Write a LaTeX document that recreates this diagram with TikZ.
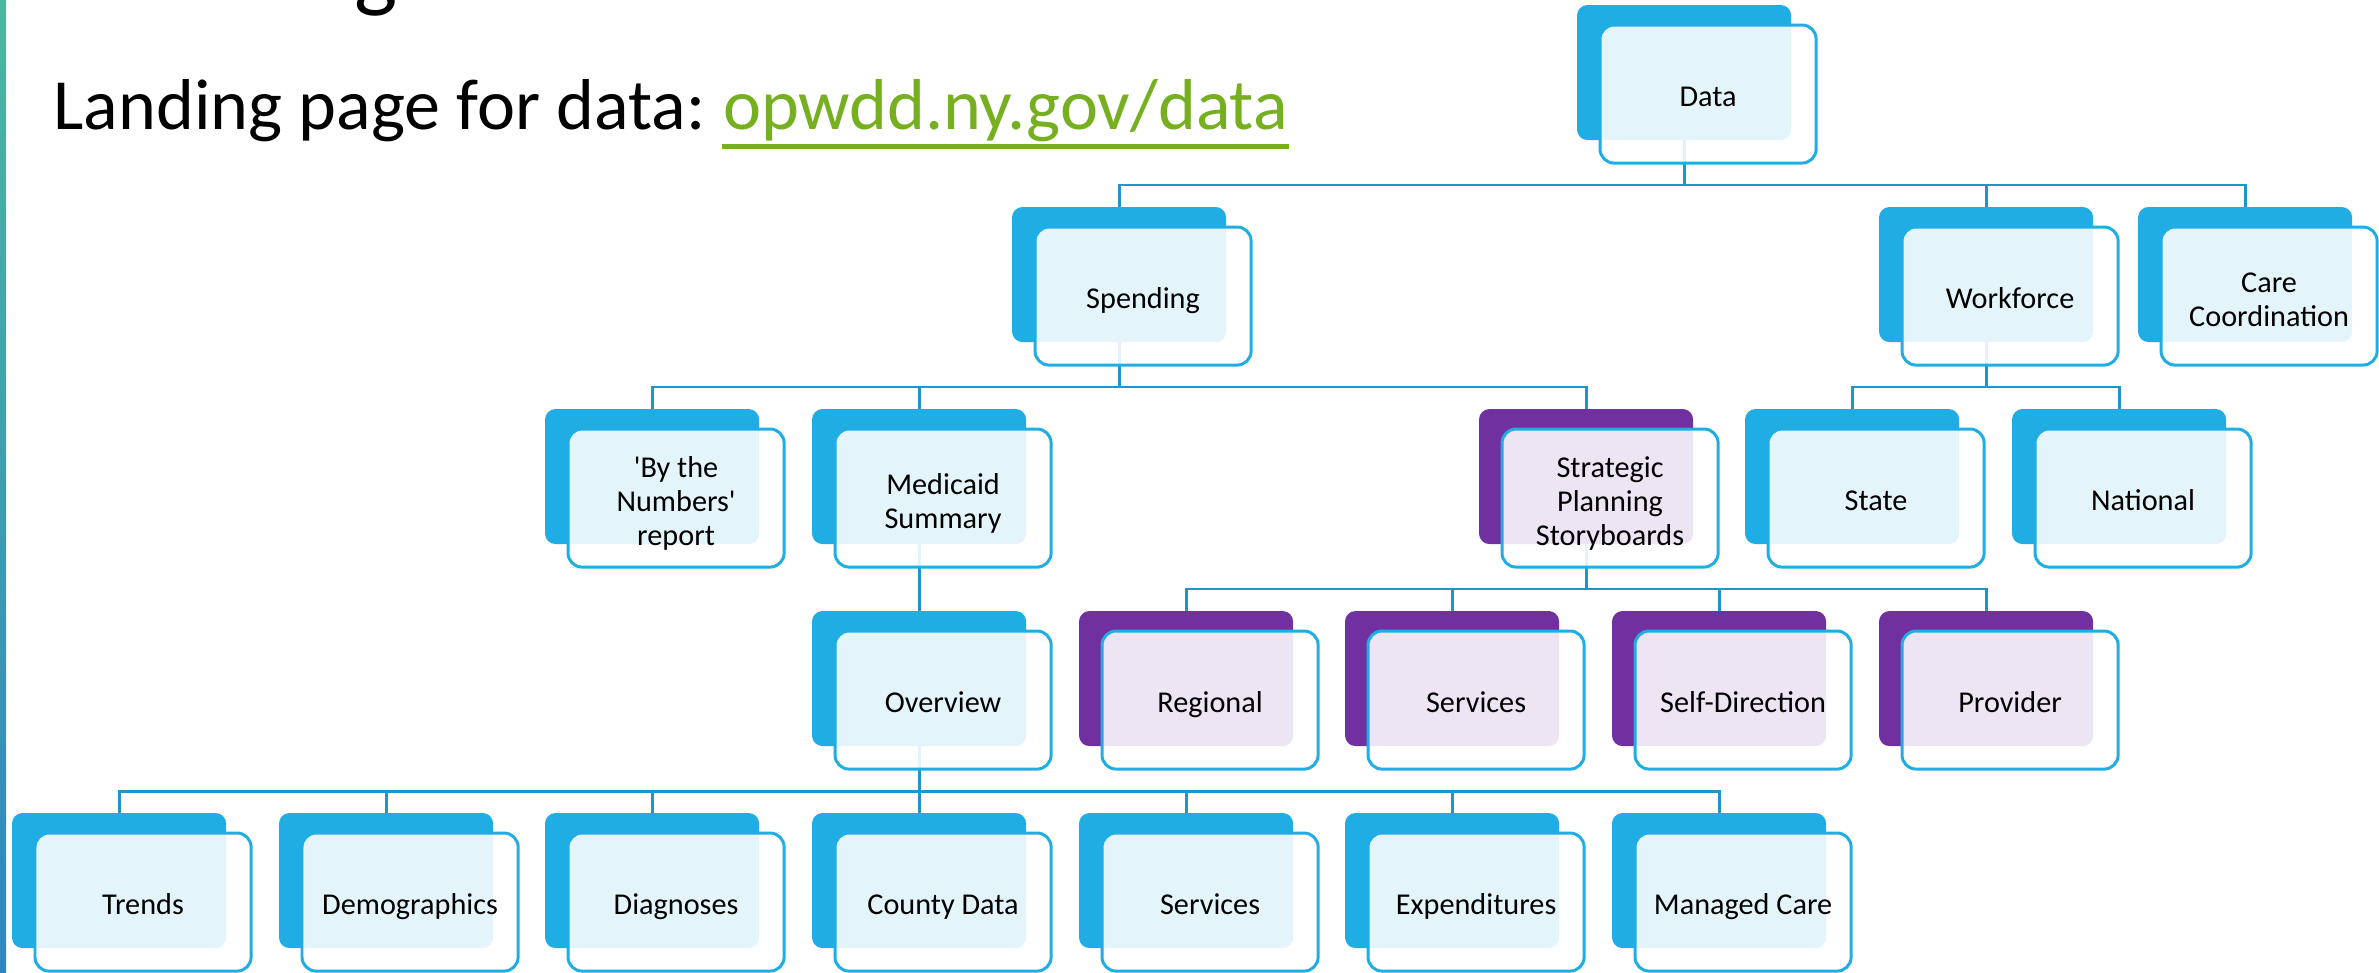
\documentclass[tikz,border=0pt]{standalone}
\usepackage{fontspec}
\setmainfont{Carlito}
\usetikzlibrary{positioning, calc}
\definecolor{boxblue}{RGB}{31, 173, 228}
\definecolor{boxpurple}{RGB}{112, 48, 160}
\definecolor{lineblue}{RGB}{28, 150, 205}
\definecolor{urlgreen}{RGB}{118, 176, 33}
\definecolor{barteal}{RGB}{77, 182, 160}
\definecolor{barblue}{RGB}{46, 134, 193}
\newcommand{\cardlift}{\rule{0pt}{10.4pt}}

\tikzset{
  backbox/.style={fill=#1, rounded corners=3pt, minimum width=2.14cm, minimum height=1.35cm,
    inner sep=0pt, outer sep=0pt, anchor=north west},
  frontbox/.style={draw=boxblue, line width=0.85pt, fill=white, fill opacity=0.88, text opacity=1,
    rounded corners=4pt, minimum width=2.16cm, minimum height=1.38cm, inner sep=1pt, outer sep=0pt,
    anchor=north west, align=center, font=\fontsize{8.6}{9.7}\selectfont,
    execute at begin node={\rule{0pt}{10.1pt}}, execute at end node={\rule[-2.9pt]{0pt}{2.9pt}}},
  link/.style={draw=lineblue, line width=0.85pt},
  headline/.style={anchor=base west, inner sep=0pt, font=\fontsize{20.5}{24}\selectfont}
}

\begin{document}
\begin{tikzpicture}[x=0.01cm, y=-0.01cm]
  \path[use as bounding box, fill=white] (0,0) rectangle (2379,972);

  % Side bar
  \shade[top color=barteal, bottom color=barblue] (0,0) rectangle (6,972);

  % Heading (title above is cut off, only its g shows)
  \node[anchor=base, inner sep=0pt, font=\fontsize{26}{30}\selectfont] (cut) at (376,0) {g};
  \node[headline] (title) at (53,129) {Landing page for data:};
  \node[headline, text=urlgreen] (url) at ([xshift=0.16cm]title.base east) {opwdd.ny.gov/data};
  \draw[urlgreen, line width=1.4pt] ([yshift=-0.175cm]url.base west) -- ([yshift=-0.175cm]url.base east);

  % Back tabs
  \node[backbox=boxblue] (data) at (1577,5) {};
  \node[backbox=boxblue] (spend) at (1012,207) {};
  \node[backbox=boxblue] (work) at (1879,207) {};
  \node[backbox=boxblue] (care) at (2138,207) {};
  \node[backbox=boxblue] (bynum) at (545,409) {};
  \node[backbox=boxblue] (medic) at (812,409) {};
  \node[backbox=boxpurple] (strat) at (1479,409) {};
  \node[backbox=boxblue] (state) at (1745,409) {};
  \node[backbox=boxblue] (natl) at (2012,409) {};
  \node[backbox=boxblue] (over) at (812,611) {};
  \node[backbox=boxpurple] (regio) at (1079,611) {};
  \node[backbox=boxpurple] (servs) at (1345,611) {};
  \node[backbox=boxpurple] (selfd) at (1612,611) {};
  \node[backbox=boxpurple] (prov) at (1879,611) {};
  \node[backbox=boxblue] (trend) at (12,813) {};
  \node[backbox=boxblue] (demo) at (279,813) {};
  \node[backbox=boxblue] (diag) at (545,813) {};
  \node[backbox=boxblue] (county) at (812,813) {};
  \node[backbox=boxblue] (servm) at (1079,813) {};
  \node[backbox=boxblue] (expend) at (1345,813) {};
  \node[backbox=boxblue] (manag) at (1612,813) {};

  % Connectors
  \foreach \kid in {spend, work, care}
    \draw[link] (data.south) |- ([yshift=0.22cm]\kid.north) -- (\kid.north);
  \foreach \kid in {bynum, medic, strat}
    \draw[link] (spend.south) |- ([yshift=0.22cm]\kid.north) -- (\kid.north);
  \foreach \kid in {state, natl}
    \draw[link] (work.south) |- ([yshift=0.22cm]\kid.north) -- (\kid.north);
  \draw[link] (medic.south) -- (over.north);
  \foreach \kid in {regio, servs, selfd, prov}
    \draw[link] (strat.south) |- ([yshift=0.22cm]\kid.north) -- (\kid.north);
  \foreach \kid in {trend, demo, diag, county, servm, expend, manag}
    \draw[link] (over.south) |- ([yshift=0.22cm]\kid.north) -- (\kid.north);

  % Front cards
  \node[frontbox] (dataF) at ($(data.north west)+(23,20)$) {Data};
  \node[frontbox] (spendF) at ($(spend.north west)+(23,20)$) {Spending};
  \node[frontbox] (workF) at ($(work.north west)+(23,20)$) {Workforce};
  \node[frontbox] (careF) at ($(care.north west)+(23,20)$) {\cardlift Care\\Coordination};
  \node[frontbox] (bynumF) at ($(bynum.north west)+(23,20)$) {\cardlift\textquotesingle By the\\Numbers\textquotesingle\\report};
  \node[frontbox] (medicF) at ($(medic.north west)+(23,20)$) {\cardlift Medicaid\\Summary};
  \node[frontbox] (stratF) at ($(strat.north west)+(23,20)$) {\cardlift Strategic\\Planning\\Storyboards};
  \node[frontbox] (stateF) at ($(state.north west)+(23,20)$) {State};
  \node[frontbox] (natlF) at ($(natl.north west)+(23,20)$) {National};
  \node[frontbox] (overF) at ($(over.north west)+(23,20)$) {Overview};
  \node[frontbox] (regioF) at ($(regio.north west)+(23,20)$) {Regional};
  \node[frontbox] (servsF) at ($(servs.north west)+(23,20)$) {Services};
  \node[frontbox] (selfdF) at ($(selfd.north west)+(23,20)$) {Self-Direction};
  \node[frontbox] (provF) at ($(prov.north west)+(23,20)$) {Provider};
  \node[frontbox] (trendF) at ($(trend.north west)+(23,20)$) {Trends};
  \node[frontbox] (demoF) at ($(demo.north west)+(23,20)$) {Demographics};
  \node[frontbox] (diagF) at ($(diag.north west)+(23,20)$) {Diagnoses};
  \node[frontbox] (countyF) at ($(county.north west)+(23,20)$) {County Data};
  \node[frontbox] (servmF) at ($(servm.north west)+(23,20)$) {Services};
  \node[frontbox] (expendF) at ($(expend.north west)+(23,20)$) {Expenditures};
  \node[frontbox] (managF) at ($(manag.north west)+(23,20)$) {Managed Care};
\end{tikzpicture}
\end{document}
